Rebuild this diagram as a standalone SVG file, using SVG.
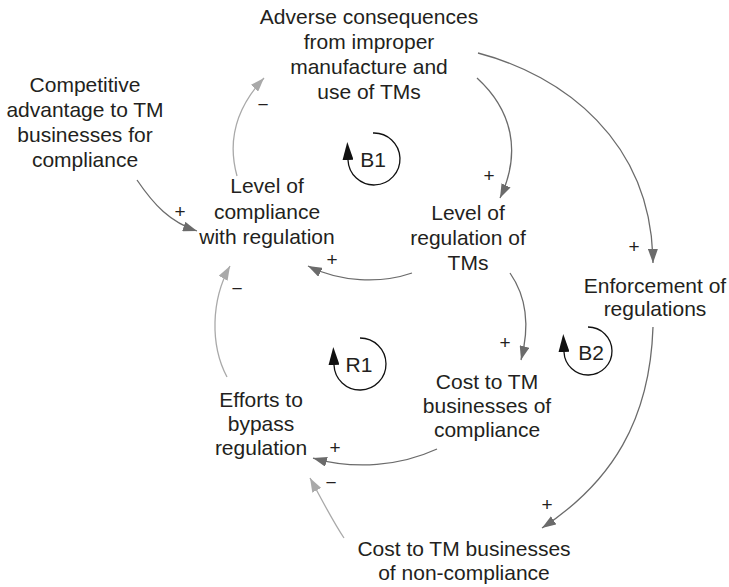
<svg xmlns="http://www.w3.org/2000/svg" width="729" height="587" viewBox="0 0 729 587">
  <style>
    .lbl { font-family: "Liberation Sans", Arial, Helvetica, sans-serif; font-size: 21px; fill: #231f20; text-anchor: middle; }
    .sign { font-family: "Liberation Sans", Arial, Helvetica, sans-serif; font-size: 19px; fill: #231f20; text-anchor: middle; }
    .pos { fill: none; stroke: #6b6b6b; stroke-width: 1.3; marker-end: url(#arrDark); }
    .neg { fill: none; stroke: #a9a9a9; stroke-width: 1.3; marker-end: url(#arrLight); }
    .loop { fill: none; stroke: #111; stroke-width: 1.3; marker-end: url(#arrLoop); }
  </style>
  <defs>
    <marker id="arrDark" viewBox="0 0 14 10" refX="14" refY="5" markerWidth="14" markerHeight="10" markerUnits="userSpaceOnUse" orient="auto">
      <path d="M0,0 L14,5 L0,10 z" fill="#6b6b6b"/>
    </marker>
    <marker id="arrLight" viewBox="0 0 14 10" refX="14" refY="5" markerWidth="14" markerHeight="10" markerUnits="userSpaceOnUse" orient="auto">
      <path d="M0,0 L14,5 L0,10 z" fill="#a9a9a9"/>
    </marker>
    <marker id="arrLoop" viewBox="0 0 18 11" refX="0" refY="5.5" markerWidth="18" markerHeight="11" markerUnits="userSpaceOnUse" orient="auto">
      <path d="M0,0 L18,5.5 L0,11 z" fill="#111"/>
    </marker>
  </defs>

  <!-- causal links -->
  <g id="connectors">
    <path class="neg" d="M237,176 C 227,140 236,108 264,78"/>
    <path class="pos" d="M477,78 C 512,110 522,152 500,198"/>
    <path class="pos" d="M478,53 C 562,75 652,140 653,263"/>
    <path class="pos" d="M412,273 C 380,284 340,282 308,266"/>
    <path class="pos" d="M137,180 C 154,205 170,222 197,231"/>
    <path class="neg" d="M227,377 C 210,345 211,300 230,266"/>
    <path class="pos" d="M510,273 C 526,296 530,326 521,360"/>
    <path class="pos" d="M437,449 C 400,466 355,470 313,458"/>
    <path class="pos" d="M653,327 C 650,420 612,482 542,528"/>
    <path class="neg" d="M344,538 C 332,520 322,500 310,478"/>
    <!-- link polarities -->
    <text class="sign" x="263" y="111">−</text>
    <text class="sign" x="489" y="182">+</text>
    <text class="sign" x="634" y="253">+</text>
    <text class="sign" x="332" y="266">+</text>
    <text class="sign" x="180" y="218">+</text>
    <text class="sign" x="237" y="295">−</text>
    <text class="sign" x="505" y="349">+</text>
    <text class="sign" x="335" y="454">+</text>
    <text class="sign" x="547" y="511">+</text>
    <text class="sign" x="331" y="489">−</text>
  </g>

  <!-- variables -->
  <g id="adverse">
    <text class="lbl" x="369" y="24">Adverse consequences</text>
    <text class="lbl" x="369" y="49">from improper</text>
    <text class="lbl" x="369" y="74">manufacture and</text>
    <text class="lbl" x="369" y="99">use of TMs</text>
  </g>
  <g id="competitive">
    <text class="lbl" x="85" y="92">Competitive</text>
    <text class="lbl" x="85" y="117">advantage to TM</text>
    <text class="lbl" x="85" y="142">businesses for</text>
    <text class="lbl" x="85" y="167">compliance</text>
  </g>
  <g id="compliance">
    <text class="lbl" x="267" y="193">Level of</text>
    <text class="lbl" x="267" y="219">compliance</text>
    <text class="lbl" x="267" y="244">with regulation</text>
  </g>
  <g id="regulation">
    <text class="lbl" x="468" y="220">Level of</text>
    <text class="lbl" x="468" y="245">regulation of</text>
    <text class="lbl" x="468" y="270">TMs</text>
  </g>
  <g id="enforcement">
    <text class="lbl" x="655" y="293">Enforcement of</text>
    <text class="lbl" x="655" y="316">regulations</text>
  </g>
  <g id="cost-compliance">
    <text class="lbl" x="487" y="389">Cost to TM</text>
    <text class="lbl" x="487" y="413">businesses of</text>
    <text class="lbl" x="487" y="437">compliance</text>
  </g>
  <g id="efforts">
    <text class="lbl" x="261" y="407">Efforts to</text>
    <text class="lbl" x="261" y="431">bypass</text>
    <text class="lbl" x="261" y="455">regulation</text>
  </g>
  <g id="cost-noncompliance">
    <text class="lbl" x="464" y="556">Cost to TM businesses</text>
    <text class="lbl" x="464" y="580">of non-compliance</text>
  </g>

  <!-- loop markers -->
  <g id="loop-b1">
    <path class="loop" d="M373,133 A26,26 0 1,1 348,160"/>
    <text class="lbl" x="373" y="167">B1</text>
  </g>
  <g id="loop-r1">
    <path class="loop" d="M360,338 A26,26 0 1,1 334,365"/>
    <text class="lbl" x="359" y="372">R1</text>
  </g>
  <g id="loop-b2">
    <path class="loop" d="M588,327 A24,24 0 1,1 564,352"/>
    <text class="lbl" x="591" y="360">B2</text>
  </g>
</svg>
